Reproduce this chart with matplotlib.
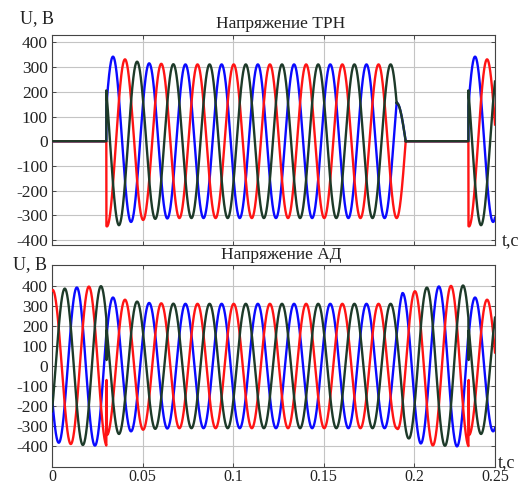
import numpy as np
import matplotlib
matplotlib.use("Agg")
import matplotlib.pyplot as plt

# ---------------- data ----------------
FREQ = 50.0                 # Hz
T0 = 0.0337                 # time of a blue-phase peak, s
PHASE_SHIFT = [0.0, -2 * np.pi / 3, -4 * np.pi / 3]   # blue, red, green
COLORS = ["#0a0aff", "#ff1414", "#1d3a29"]

XMAX = 0.2447
T_ON = [0.030, 0.230]        # thyristors switched on
T_OFF1 = 0.1904              # first phase stops conducting
T_OFF2 = 0.1954              # all phases stop conducting

# amplitude of supply voltage after switching on (time since switch-on, V)
SUP_DT = [0.0, 0.007, 0.010, 0.017, 0.024, 0.040]
SUP_A = [345, 340, 332, 322, 315, 311]

# amplitude of motor voltage while the regulator is off (time, V)
EMF_T = [0.0, 0.010, 0.020, 0.030, 0.1904, 0.1935, 0.1970, 0.2000,
         0.2035, 0.2070, 0.2100, 0.2150, 0.2235, 0.2300]
EMF_A = [380, 390, 397, 400, 311, 365, 362, 372,
         387, 392, 397, 398, 402, 403]

# switching spikes in motor voltage (red, green)
SPIKE_RED = [-70, -70]
SPIKE_GREEN = [30, 30]

YTICKS = [-400, -300, -200, -100, 0, 100, 200, 300, 400]
XTICKS = [0, 0.05, 0.1, 0.15, 0.2, XMAX]
XTICK_LABELS = ["0", "0.05", "0.1", "0.15", "0.2", "0.25"]

TITLE_TOP = "Напряжение ТРН"
TITLE_BOT = "Напряжение АД"


# ---------------- helpers ----------------
def carrier(t, k):
    return np.cos(2 * np.pi * FREQ * (t - T0) + PHASE_SHIFT[k])


def env_sup(t, start):
    return np.interp(t - start, SUP_DT, SUP_A)


def env_emf(t):
    return np.interp(t, EMF_T, EMF_A)


def seg(a, b, n=None):
    if n is None:
        n = max(int((b - a) / 2e-5), 3)
    return np.linspace(a, b, n)


# ---------------- top: regulator output voltage ----------------
top = []
for k in range(3):
    ts, ys = [], []
    t = seg(0, T_ON[0]); ts.append(t); ys.append(np.zeros_like(t))
    t = seg(T_ON[0], T_OFF1); ts.append(t); ys.append(env_sup(t, T_ON[0]) * carrier(t, k))
    t = seg(T_OFF1, T_OFF2)
    red = env_sup(t, T_ON[0]) * carrier(t, 1)
    ts.append(t); ys.append(red if k == 1 else -red / 2)
    t = seg(T_OFF2, T_ON[1]); ts.append(t); ys.append(np.zeros_like(t))
    t = seg(T_ON[1], XMAX); ts.append(t); ys.append(env_sup(t, T_ON[1]) * carrier(t, k))
    top.append((np.concatenate(ts), np.concatenate(ys)))

# ---------------- bottom: motor voltage ----------------
bot = []
for k in range(3):
    ts, ys = [], []
    t = seg(0, T_ON[0]); ts.append(t); ys.append(env_emf(t) * carrier(t, k))
    for i, (a, b) in enumerate([(T_ON[0], T_OFF1), (T_ON[1], XMAX)]):
        if k == 1:
            ts.append(np.array([a + 0.00015])); ys.append(np.array([SPIKE_RED[i]]))
        elif k == 2:
            ts.append(np.array([a + 0.00015])); ys.append(np.array([SPIKE_GREEN[i]]))
        t = seg(a + 0.0003, b); ts.append(t); ys.append(env_sup(t, a) * carrier(t, k))
        if i == 0:
            t = seg(T_OFF1, T_ON[1]); ts.append(t); ys.append(env_emf(t) * carrier(t, k))
    bot.append((np.concatenate(ts), np.concatenate(ys)))

# ---------------- figure ----------------
plt.rcParams["font.family"] = ["Liberation Serif", "DejaVu Serif"]
W, H = 521, 484
fig = plt.figure(figsize=(W / 100, H / 100), dpi=100)


def px_rect(l, t, r, b):
    return [l / W, 1 - b / H, (r - l) / W, (b - t) / H]


ax1 = fig.add_axes(px_rect(52, 35, 495, 245))
ax2 = fig.add_axes(px_rect(52, 265, 495, 467))

for ax, data, ylim in [(ax1, top, (-420, 430)), (ax2, bot, (-505, 505))]:
    for k in range(3):
        ax.plot(data[k][0], data[k][1], color=COLORS[k], lw=1.7,
                solid_joinstyle="round", zorder=3)
    ax.set_xlim(0, XMAX)
    ax.set_ylim(*ylim)
    ax.set_yticks(YTICKS)
    ax.set_yticklabels([str(v) for v in YTICKS])
    ax.set_xticks(XTICKS)
    ax.grid(True, color="#c4c4c4", lw=0.8, zorder=0)
    ax.tick_params(direction="in", length=3, width=0.6, labelsize=12.5,
                   top=True, right=True, pad=3, colors="#333333",
                   labelcolor="#222222")
    ax.tick_params(axis="x", labelsize=11.5, pad=1.5)
    for s in ax.spines.values():
        s.set_color("#444444")
        s.set_linewidth(0.8)

ax1.set_xticklabels([])
ax2.set_xticklabels(XTICK_LABELS)

ax1.text(0.517, 1.012, TITLE_TOP, transform=ax1.transAxes, ha="center",
         va="bottom", fontsize=12.5, color="#222222")
ax2.text(0.517, 1.012, TITLE_BOT, transform=ax2.transAxes, ha="center",
         va="bottom", fontsize=12.5, color="#222222")

fig.text(20 / W, 1 - 23 / H, "U, B", ha="left", va="baseline", fontsize=13, color="#222222")
fig.text(13 / W, 1 - 269 / H, "U, B", ha="left", va="baseline", fontsize=13, color="#222222")
fig.text(502 / W, 1 - 245 / H, "t,c", ha="left", va="baseline", fontsize=13, color="#222222")
fig.text(498 / W, 1 - 467 / H, "t,c", ha="left", va="baseline", fontsize=13, color="#222222")

fig.savefig("out.png", dpi=100, facecolor="white")
